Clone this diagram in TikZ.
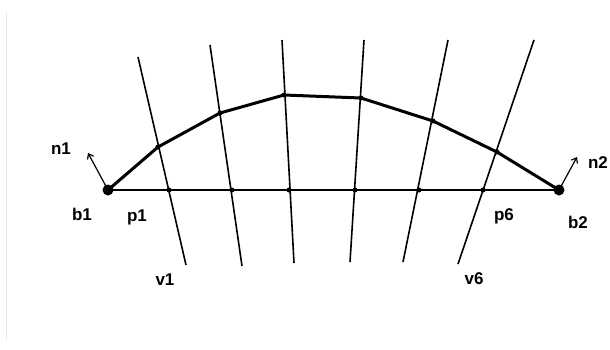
\documentclass[tikz,border=0pt]{standalone}
\usepackage{fontspec}
\setmainfont{Liberation Sans}
\usetikzlibrary{arrows.meta}
\begin{document}
\begin{tikzpicture}[x=1pt,y=-1pt,
  thin line/.style={line width=1.6pt,black},
  curve line/.style={line width=3pt,black,line join=round},
  big dot/.style={circle,fill=black,inner sep=0pt,minimum size=11pt},
  small dot/.style={circle,fill=black,inner sep=0pt,minimum size=5pt},
  lab/.style={font=\bfseries\fontsize{17}{17}\selectfont,inner sep=0pt},
  normal arrow/.style={line width=1.2pt,-{Straight Barb[length=4.5pt,width=7pt]}}]
\useasboundingbox (0,0) rectangle (610,349);
\draw[line width=1.4pt,color=black!10] (6.5,12) -- (6.5,340);
% end points
\node[big dot] (b1) at (108,190) {};
\node[big dot] (b2) at (559,190) {};
% baseline points
\node[small dot] (p1) at (169,190) {};
\node[small dot] (p2) at (232,190) {};
\node[small dot] (p3) at (289,190) {};
\node[small dot] (p4) at (355,190) {};
\node[small dot] (p5) at (419,190) {};
\node[small dot] (p6) at (483,190) {};
% curve points
\node[small dot] (c1) at (158,147) {};
\node[small dot] (c2) at (220,113) {};
\node[small dot] (c3) at (284,95) {};
\node[small dot] (c4) at (361,98) {};
\node[small dot] (c5) at (433,121) {};
\node[small dot] (c6) at (497,152) {};
% line ends
\coordinate (t1) at (138,57);  \coordinate (e1) at (186,265);
\coordinate (t2) at (210,45);  \coordinate (e2) at (242,266);
\coordinate (t3) at (282,40);  \coordinate (e3) at (294,263);
\coordinate (t4) at (364,40);  \coordinate (e4) at (350,262);
\coordinate (t5) at (448,40);  \coordinate (e5) at (403,262);
\coordinate (t6) at (534,40);  \coordinate (e6) at (458,264);
\foreach \i in {1,...,6} \draw[thin line] (t\i) -- (e\i);
\draw[thin line] (b1.center) -- (b2.center);
\draw[curve line] (b1.center) -- (c1.center) -- (c2.center) -- (c3.center) -- (c4.center) -- (c5.center) -- (c6.center) -- (b2.center);
% normals
\coordinate (n1tip) at (88,153);
\coordinate (n2tip) at (577,157);
\draw[normal arrow] (b1.center) -- (n1tip);
\draw[normal arrow] (b2.center) -- (n2tip);
% labels
\node[lab] (ln1) at (61,149) {n1};
\node[lab] (ln2) at (598,163) {n2};
\node[lab] (lb1) at (82,214) {b1};
\node[lab] (lb2) at (578,222) {b2};
\node[lab] (lp1) at (137,217) {p1};
\node[lab] (lp6) at (504,216) {p6};
\node[lab] (lv1) at (165,280) {v1};
\node[lab] (lv6) at (474,279) {v6};
\end{tikzpicture}
\end{document}
